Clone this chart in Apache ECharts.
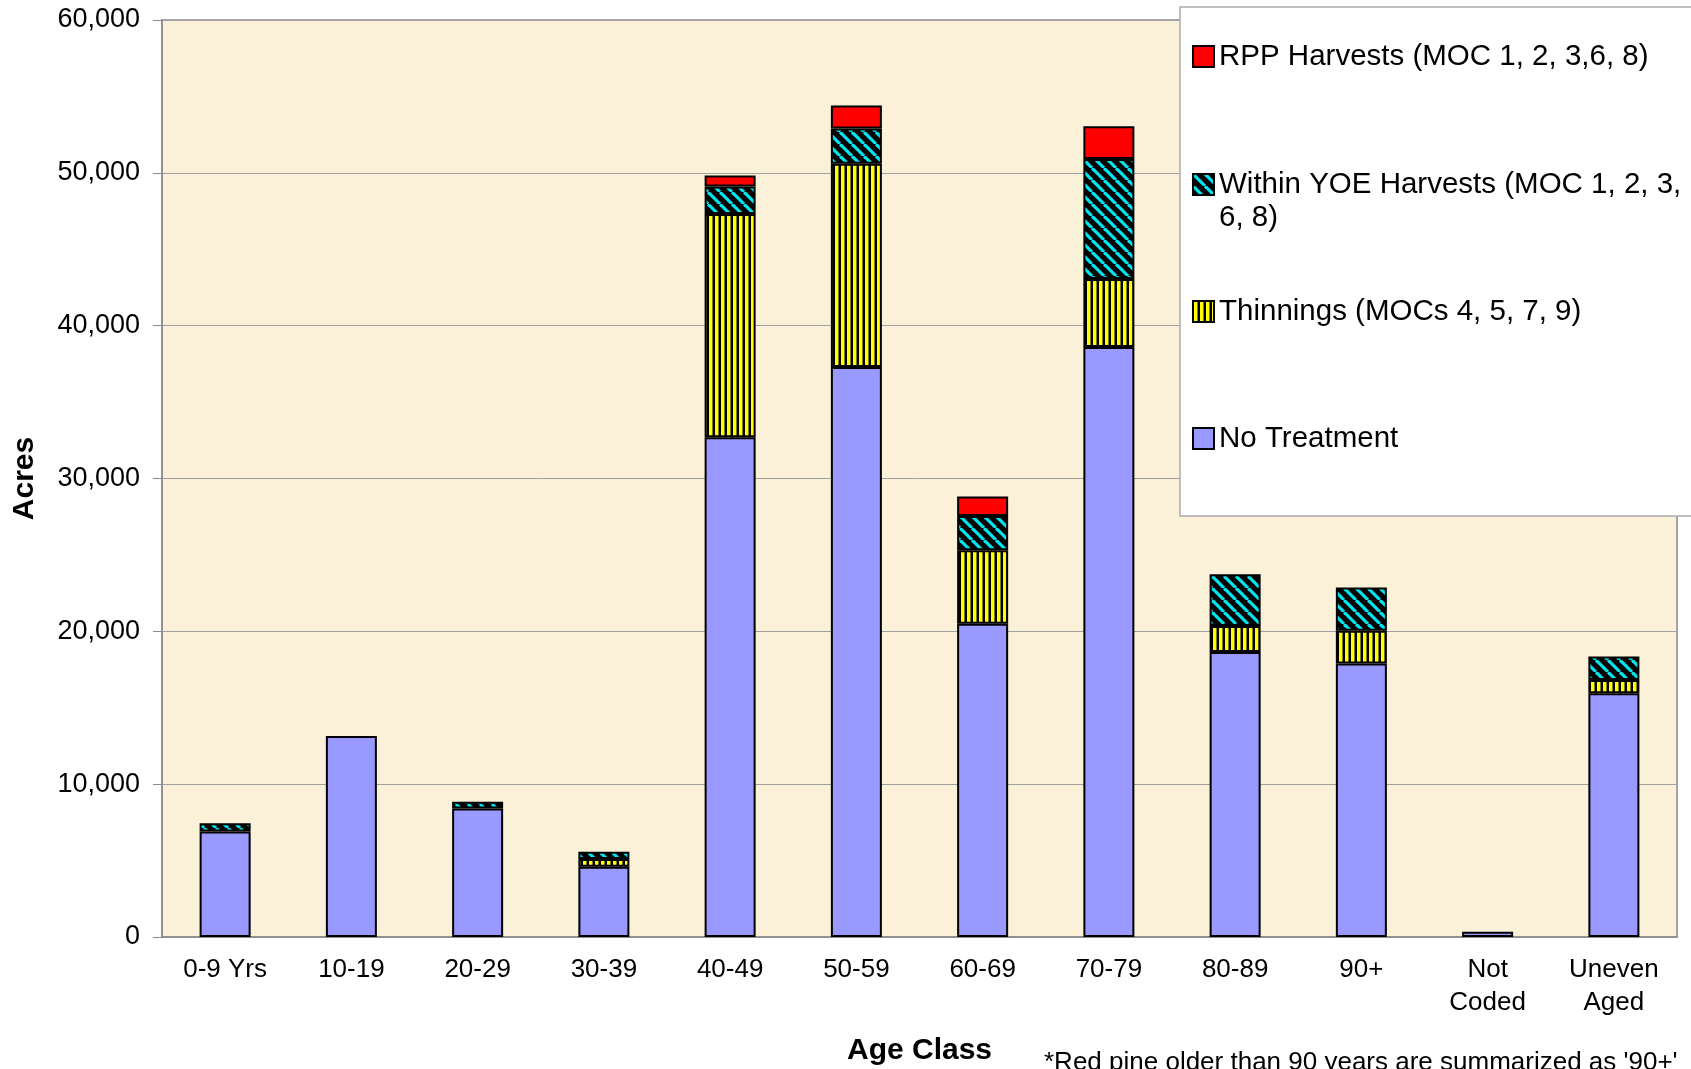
<!DOCTYPE html>
<html>
<head>
<meta charset="utf-8">
<script src="https://cdn.jsdelivr.net/npm/echarts@6/dist/echarts.min.js"></script>
<style>
  html, body { margin: 0; padding: 0; background: #fff; }
  #chart { width: 1691px; height: 1069px; }
</style>
</head>
<body>
<div id="chart"></div>
<script>
const categories = ["0-9 Yrs", "10-19", "20-29", "30-39", "40-49", "50-59", "60-69", "70-79", "80-89", "90+", "Not\nCoded", "Uneven\nAged"];
const noTreatment = [6900, 13150, 8400, 4600, 32700, 37300, 20500, 38600, 18650, 17900, 350, 15950];
const thinnings = [null, null, null, 500, 14600, 13300, 4800, 4450, 1700, 2130, null, 870];
const withinYoe = [550, null, 450, 480, 1800, 2300, 2250, 7850, 3380, 2840, null, 1530];
const rppHarvests = [null, null, null, null, 720, 1500, 1270, 2150, null, null, null, null];
const yTicks = [0, 10000, 20000, 30000, 40000, 50000, 60000];

const FONT = 'Arial, "Liberation Sans", sans-serif';

// hatch fills like the old Excel patterns
function stripes() {
  const c = document.createElement("canvas");
  c.width = 6; c.height = 6;
  const g = c.getContext("2d");
  g.fillStyle = "#000"; g.fillRect(0, 0, 6, 6);
  g.fillStyle = "#FFFF00"; g.fillRect(1, 0, 3.5, 6);
  return { image: c, repeat: "repeat" };
}
function diagonal() {
  const c = document.createElement("canvas");
  c.width = 12; c.height = 12;
  const g = c.getContext("2d");
  g.fillStyle = "#000"; g.fillRect(0, 0, 12, 12);
  g.strokeStyle = "#00E5EE"; g.lineWidth = 3.2;
  [-12, 0, 12].forEach((x0) => {
    g.beginPath(); g.moveTo(x0, 0); g.lineTo(x0 + 12, 12); g.stroke();
  });
  return { image: c, repeat: "repeat" };
}

const chart = echarts.init(document.getElementById("chart"));

const barBase = {
  type: "bar",
  stack: "acres",
  barWidth: 51,
  emphasis: { disabled: true },
};

const legendBase = {
  orient: "vertical",
  left: 1192,
  padding: 0,
  itemWidth: 21,
  itemHeight: 21,
  icon: "rect",
  selectedMode: false,
  textStyle: { fontFamily: FONT, fontSize: 29.5, lineHeight: 33, color: "#000" },
};

const names = {
  rpp: "RPP Harvests (MOC 1, 2, 3,6, 8)",
  yoe: "Within YOE Harvests (MOC 1, 2, 3, 6, 8)",
  thin: "Thinnings (MOCs 4, 5, 7, 9)",
  none: "No Treatment",
};

chart.setOption({
  backgroundColor: "#fff",
  animation: false,
  grid: {
    left: 162, right: 14, top: 20, bottom: 132,
    outerBoundsMode: "none",
    containLabel: false,
    show: true,
    backgroundColor: "#FBF0D8",
    borderColor: "#8a8a8a",
    borderWidth: 1.5,
  },
  legend: [
    Object.assign({}, legendBase, { top: 40, data: [names.rpp] }),
    Object.assign({}, legendBase, {
      top: 135,
      data: [names.yoe],
      // empty first line keeps the icon level with the first text line
      formatter: () => "{p| }\n{t|Within YOE Harvests (MOC 1, 2, 3,}\n{t|6, 8)}",
      textStyle: Object.assign({}, legendBase.textStyle, {
        rich: {
          p: { fontFamily: FONT, fontSize: 29.5, lineHeight: 33 },
          t: { fontFamily: FONT, fontSize: 29.5, lineHeight: 33, color: "#000" },
        },
      }),
    }),
    Object.assign({}, legendBase, { top: 295, data: [names.thin] }),
    Object.assign({}, legendBase, { top: 422, data: [names.none] }),
  ],
  graphic: [
    {
      type: "rect",
      z: 3,
      shape: { x: 1180, y: 7, width: 530, height: 509 },
      style: { fill: "#fff", stroke: "#aaa", lineWidth: 1.5 },
    },
    {
      type: "text",
      left: 1044,
      top: 1050,
      style: {
        text: "*Red pine older than 90 years are summarized as '90+'",
        font: '26px ' + FONT,
        fill: "#000",
      },
    },
  ],
  xAxis: {
    type: "category",
    data: categories,
    name: "Age Class",
    nameLocation: "middle",
    nameGap: 99,
    nameMoveOverlap: false,
    nameTextStyle: { fontFamily: FONT, fontSize: 30, fontWeight: "bold", color: "#000" },
    axisLine: { lineStyle: { color: "#8a8a8a", width: 1.5 } },
    axisTick: { length: 8, lineStyle: { color: "#8a8a8a" } },
    axisLabel: {
      interval: 0,
      margin: 16,
      color: "#000",
      fontFamily: FONT,
      fontSize: 26,
      lineHeight: 33,
    },
  },
  yAxis: {
    type: "value",
    min: 0,
    max: 60000,
    interval: 10000,
    name: "Acres",
    nameLocation: "middle",
    nameGap: 122,
    nameMoveOverlap: false,
    nameTextStyle: { fontFamily: FONT, fontSize: 30, fontWeight: "bold", color: "#000" },
    axisLine: { show: true, lineStyle: { color: "#8a8a8a", width: 1.5 } },
    axisTick: { show: true, length: 9, lineStyle: { color: "#8a8a8a" } },
    splitLine: { lineStyle: { color: "#a0a0a0", width: 1 } },
    axisLabel: {
      margin: 22,
      color: "#000",
      fontFamily: FONT,
      fontSize: 27,
      formatter: (v) => (yTicks.includes(v) ? v.toLocaleString("en-US") : ""),
    },
  },
  series: [
    Object.assign({}, barBase, {
      name: names.none,
      data: noTreatment,
      itemStyle: { color: "#9999FF", borderColor: "#000", borderWidth: 2 },
    }),
    Object.assign({}, barBase, {
      name: names.thin,
      data: thinnings,
      itemStyle: { color: stripes(), borderColor: "#000", borderWidth: 2 },
    }),
    Object.assign({}, barBase, {
      name: names.yoe,
      data: withinYoe,
      itemStyle: { color: diagonal(), borderColor: "#000", borderWidth: 2 },
    }),
    Object.assign({}, barBase, {
      name: names.rpp,
      data: rppHarvests,
      itemStyle: { color: "#FF0000", borderColor: "#000", borderWidth: 2 },
    }),
  ],
});
</script>
</body>
</html>
